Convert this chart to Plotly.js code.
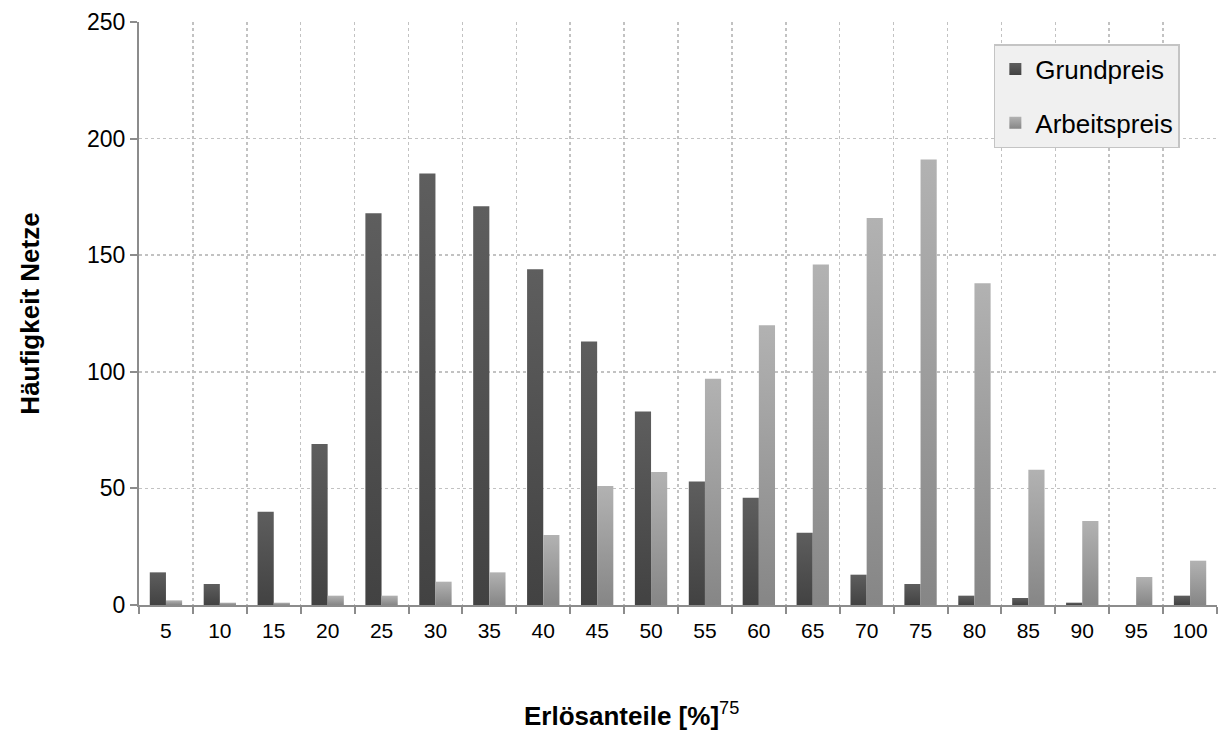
<!DOCTYPE html>
<html>
<head>
<meta charset="utf-8">
<script src="https://cdn.plot.ly/plotly-3.0.1.min.js"></script>
<style>
  html, body { margin: 0; padding: 0; background: #ffffff; }
  #chart { width: 1224px; height: 731px; }
</style>
</head>
<body>
<div id="chart"></div>
<script>
// ---- data ----
const categories = ["5","10","15","20","25","30","35","40","45","50","55","60","65","70","75","80","85","90","95","100"];
const grundpreis = [14, 9, 40, 69, 168, 185, 171, 144, 113, 83, 53, 46, 31, 13, 9, 4, 3, 1, 0, 4];
const arbeitspreis = [2, 1, 1, 4, 4, 10, 14, 30, 51, 57, 97, 120, 146, 166, 191, 138, 58, 36, 12, 19];
const seriesNames = ["Grundpreis", "Arbeitspreis"];
const yTickVals = [0, 50, 100, 150, 200, 250];
const yTitle = "Häufigkeit Netze";
const xTitle = "Erlösanteile [%]";
const footnote = "75";

const FONT = "Arial, 'Liberation Sans', sans-serif";

const data = [
  { type: "bar", name: seriesNames[0], x: categories, y: grundpreis,
    marker: { color: "#505050", line: { width: 0 } }, legendgroup: "g1" },
  { type: "bar", name: seriesNames[1], x: categories, y: arbeitspreis,
    marker: { color: "#9e9e9e", line: { width: 0 } }, legendgroup: "g2" }
];

const layout = {
  width: 1224, height: 731,
  margin: { l: 139, r: 7, t: 22, b: 126, pad: 0 },
  paper_bgcolor: "#ffffff", plot_bgcolor: "#ffffff",
  font: { family: FONT, size: 22, color: "#000000" },
  barmode: "group", bargap: 0.4, bargroupgap: 0,
  showlegend: true,
  legend: {
    x: 0.793, y: 0.962, xanchor: "left", yanchor: "top",
    bgcolor: "#f0f0f0", bordercolor: "#c4c4c4", borderwidth: 1.5,
    font: { family: FONT, size: 26, color: "#000000" },
    traceorder: "grouped", tracegroupgap: 17,
    itemwidth: 30
  },
  xaxis: {
    type: "category", tickson: "boundaries",
    showgrid: true, gridcolor: "#c2c2c2", gridwidth: 1.5, griddash: "dot",
    showline: true, linecolor: "#8c8c8c", linewidth: 2,
    ticks: "outside", ticklen: 7, tickwidth: 2, tickcolor: "#8c8c8c",
    ticklabelstandoff: 6,
    tickfont: { family: FONT, size: 21, color: "#000000" },
    zeroline: false
  },
  yaxis: {
    range: [0, 250], tickvals: yTickVals,
    showgrid: true, gridcolor: "#c2c2c2", gridwidth: 1.5, griddash: "dot",
    showline: true, linecolor: "#8c8c8c", linewidth: 2,
    ticks: "outside", ticklen: 7, tickwidth: 2, tickcolor: "#8c8c8c",
    tickfont: { family: FONT, size: 23, color: "#000000" },
    zeroline: false,
    title: { text: "<b>" + yTitle + "</b>", font: { family: FONT, size: 26, color: "#000000" }, standoff: 40 }
  },
  annotations: [{
    xref: "paper", yref: "paper", x: 0.457, y: -0.218, xanchor: "center", yanchor: "bottom",
    text: "<b>" + xTitle + "</b><sup>" + footnote + "</sup>", showarrow: false,
    font: { family: FONT, size: 26, color: "#000000" }, borderpad: 0
  }]
};

function applyGradients(gd) {
  const ns = "http://www.w3.org/2000/svg";
  const svg = gd.querySelector("svg.main-svg");
  let defs = svg.querySelector("defs");
  if (!defs) { defs = document.createElementNS(ns, "defs"); svg.insertBefore(defs, svg.firstChild); }
  const grads = [
    { id: "gradDark", top: "#5e5e5e", bot: "#424242" },
    { id: "gradLight", top: "#b2b2b2", bot: "#868686" }
  ];
  grads.forEach(g => {
    const lg = document.createElementNS(ns, "linearGradient");
    lg.setAttribute("id", g.id);
    lg.setAttribute("x1", "0"); lg.setAttribute("y1", "0");
    lg.setAttribute("x2", "0"); lg.setAttribute("y2", "1");
    const s1 = document.createElementNS(ns, "stop");
    s1.setAttribute("offset", "0"); s1.setAttribute("stop-color", g.top);
    const s2 = document.createElementNS(ns, "stop");
    s2.setAttribute("offset", "1"); s2.setAttribute("stop-color", g.bot);
    lg.appendChild(s1); lg.appendChild(s2);
    defs.appendChild(lg);
  });
  gd.querySelectorAll(".barlayer .trace").forEach((t, i) => {
    t.querySelectorAll("path").forEach(p => { p.style.fill = "url(#" + grads[i].id + ")"; });
  });
  gd.querySelectorAll(".legend .traces").forEach((t, i) => {
    t.querySelectorAll(".legendpoints path").forEach(p => { p.style.fill = "url(#" + grads[i].id + ")"; });
  });
}

Plotly.newPlot("chart", data, layout, { staticPlot: true, displayModeBar: false }).then(applyGradients);
</script>
</body>
</html>
